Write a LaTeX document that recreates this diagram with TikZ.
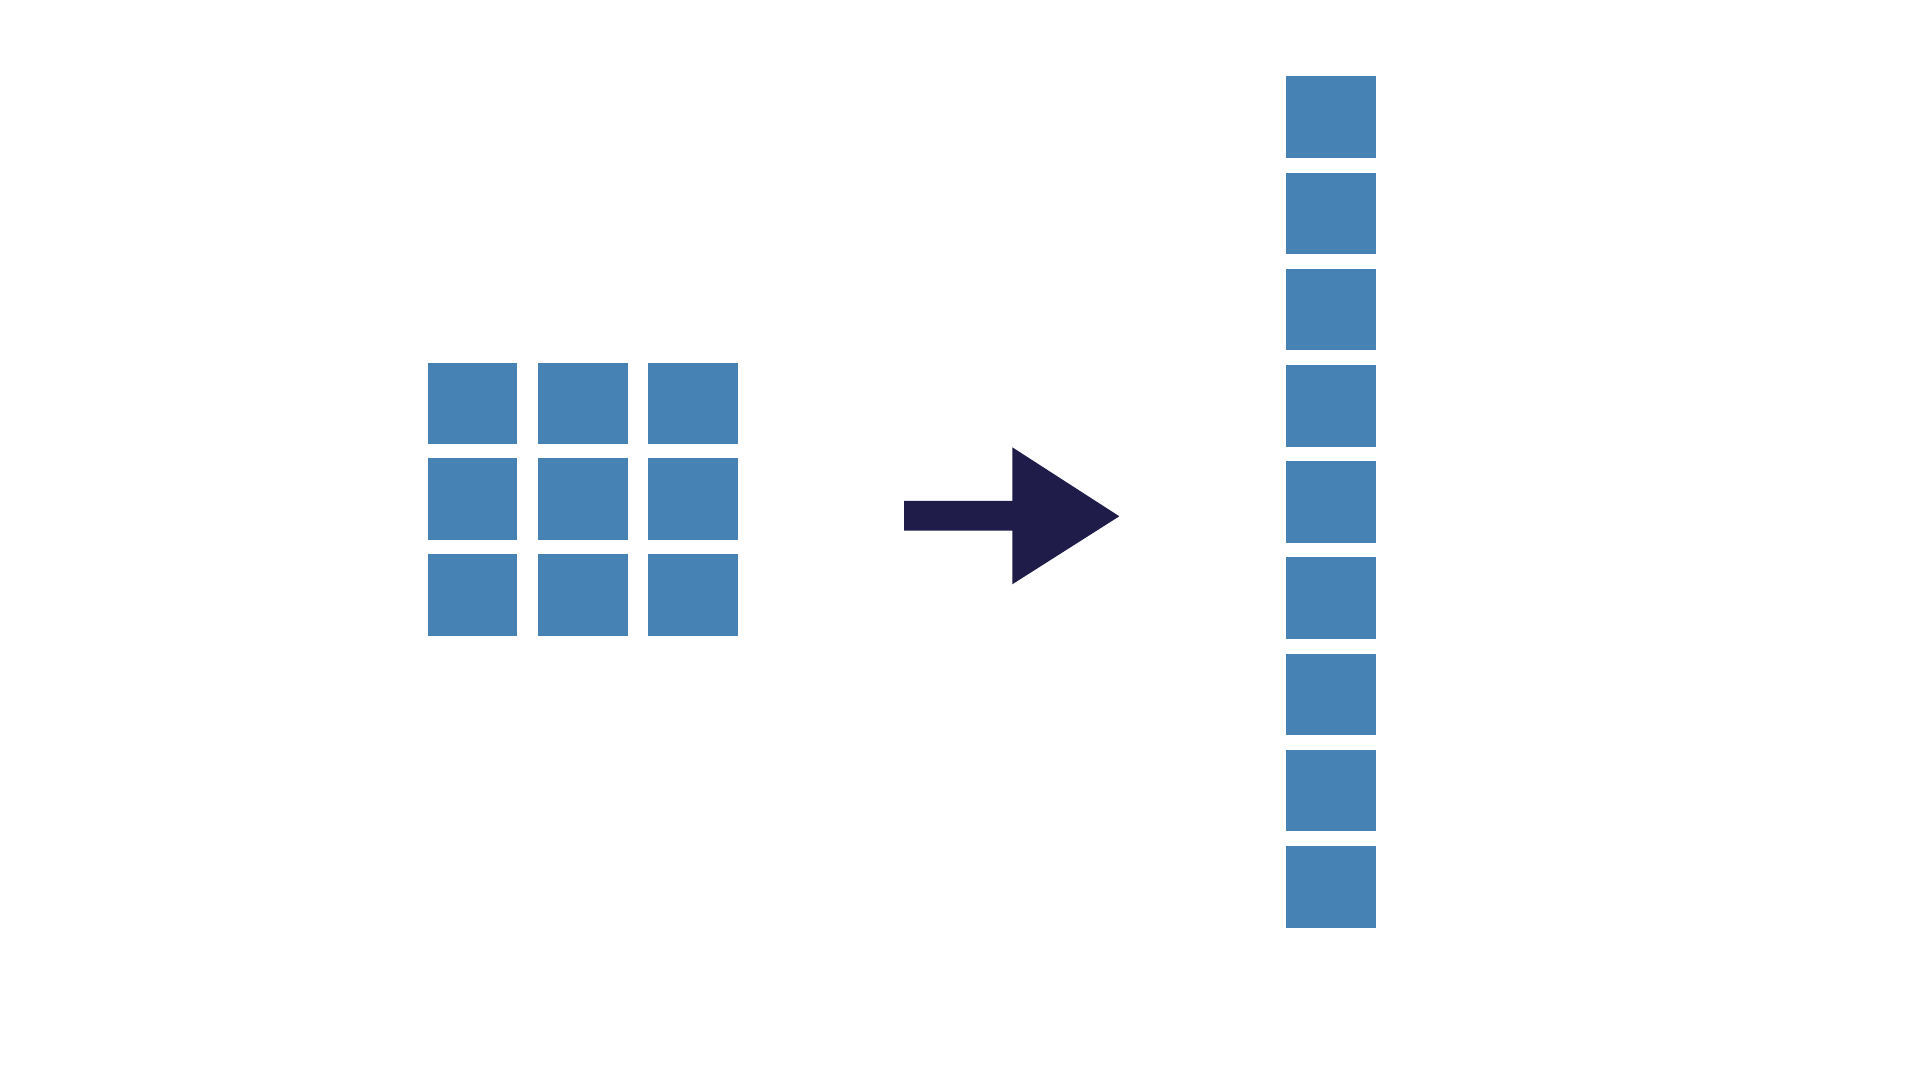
\documentclass[tikz,border=0pt]{standalone}
\usepackage{xcolor}
\usepackage{tikz}
\usetikzlibrary{positioning}

\definecolor{cellblue}{HTML}{4682B4}
\definecolor{arrownavy}{HTML}{1F1C4A}

\begin{document}
\begin{tikzpicture}[
x=0.01cm, y=-0.01cm,
cell/.style={
rectangle,
fill=cellblue,
inner sep=0pt,
minimum width=0.894cm,
minimum height=0.817cm
},
bigarrow/.style={fill=arrownavy}
]

% Canvas
\useasboundingbox[fill=white] (0,0) rectangle (1920,1080);

% 3x3 grid
\foreach \r/\y in {1/403.5, 2/499.3, 3/595.2} {
  \foreach \c/\x in {1/472.3, 2/582.8, 3/693} {
    \node[cell] (g\r\c) at (\x,\y) {};
  }
}

% Arrow
\coordinate (tail) at (904,501);
\fill[bigarrow] (tail) -- (1012.3,501) -- (1012.3,447.3)
  -- (1119.3,516.3) -- (1012.3,584.3) -- (1012.3,530.7) -- (904,530.7) -- cycle;

% Flattened column
\foreach \i in {0,...,8} {
  \node[cell] (v\i) at (1331,117.2+96.2*\i) {};
}

\end{tikzpicture}
\end{document}
